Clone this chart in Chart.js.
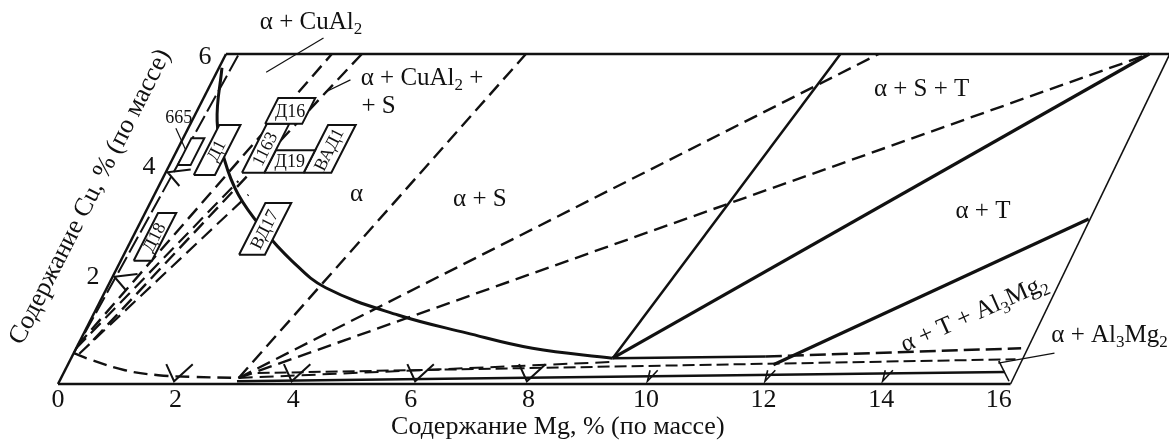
<!DOCTYPE html>
<html>
<head>
<meta charset="utf-8">
<script src="https://cdn.jsdelivr.net/npm/chart.js@4.4.0/dist/chart.umd.min.js"></script>
<style>
  html, body { margin: 0; padding: 0; background: #fff; }
</style>
</head>
<body>
<canvas id="diagram" width="1169" height="441"></canvas>
<script>
// ---- data: points are [Mg %, Cu %] ----
const mgTicks = [0, 2, 4, 6, 8, 10, 12, 14, 16];
const cuTicks = [2, 4, 6];

const frameBottom = [[0, 0], [16.2, 0]];
const frameTop = [[0, 6], [16.4, 6]];
const frameLeft = [[0, 0], [0, 6]];
const frameRight = [[16.2, 0], [16.05, 6]];
const innerLeft = [[0, 0.56], [0.22, 6]];

// solvus, high temperature (solid) and low temperature (dashed)
const solvusHot = [[0.05, 5.75], [0.43, 4.78], [0.91, 4.05], [1.43, 3.44], [2.11, 2.84], [2.91, 2.24],
                   [3.72, 1.75], [5.2, 1.25], [6.5, 0.93], [7.76, 0.65], [9.21, 0.47]];
const solvusHotTail = [[9.21, 0.47], [11.8, 0.5]];
const solvusHotEnd = [[11.8, 0.5], [16.07, 0.65]];
const solvusCold = [[0, 0.56], [0.35, 0.44], [1.02, 0.25], [1.63, 0.16], [2.21, 0.13], [3.02, 0.11]];

// tie lines, solid
const tieQTop = [[9.21, 0.47], [10.45, 6]];
const tieQP = [[9.21, 0.47], [15.7, 6]];
const tieTLow = [[12.0, 0.35], [16.1, 3.0]];

// tie lines, dashed
const dashS = [[3.02, 0.11], [5.1, 6]];
const dashA = [[3.02, 0.11], [11.1, 6]];
const dashB = [[3.02, 0.11], [15.7, 6]];
const dashFQ = [[3.02, 0.11], [9.21, 0.4]];
const dashCu1 = [[0, 0.7], [1.8, 6]];
const dashCu2 = [[0.22, 0.8], [2.31, 6]];
const dashCu3 = [[0, 0.65], [1.31, 3.69]];
const dashCu4 = [[0.1, 0.55], [1.6, 3.44]];

// lines near the Mg axis
const bandSolid = [[3.02, 0.05], [16.0, 0.22]];
const bandDash = [[3.3, 0.2], [16.07, 0.45]];
const cornerStroke = [[15.8, 0.42], [16.15, 0.05]];

// fork marks along the axes
const bottomMarks = [2, 4, 6.1, 8];
const bottomSmallMarks = [10, 12, 14];
const leftMarks = [1.95, 3.85];

// alloys: composition ranges
const alloyNames = ['Д1', 'Д16', '1163', 'Д19', 'ВАД1', 'Д18', 'ВД17', '665'];
const alloyMg = [[0.5, 0.86], [1.27, 1.9], [1.3, 1.68], [1.68, 2.35], [2.35, 2.82], [0.22, 0.53], [1.96, 2.4], [0.14, 0.36]];
const alloyCu = [[3.8, 4.71], [4.73, 5.2], [3.84, 4.73], [3.84, 4.25], [3.84, 4.71], [2.24, 3.11], [2.35, 3.29], [3.98, 4.47]];

// phase region names ('_' marks a subscript)
const regionNames = ['α + CuAl_2', 'α + CuAl_2 +', '+ S', 'α', 'α + S', 'α + S + T', 'α + T', 'α + T + Al_3Mg_2', 'α + Al_3Mg_2'];

const xTitle = 'Содержание Mg, % (по массе)';
const yTitle = 'Содержание Cu, % (по массе)';

// ---- layout ----
const FONT = '"Liberation Serif", "Times New Roman", serif';
const SKEW = 28 / 58.8;            // Cu axis leans right: Mg units per 1 % Cu
const XMIN = -58 / 58.8, XMAX = XMIN + 1169 / 58.8;
const YMAX = 384 / 55, YMIN = YMAX - 441 / 55;

const regionPlace = [
  { mg: 1.17, cu: 6.58 },
  { mg: 2.50, cu: 5.56, align: 'left' },
  { mg: 2.76, cu: 5.04, align: 'left' },
  { mg: 3.44, cu: 3.44 },
  { mg: 5.58, cu: 3.35 },
  { mg: 12.14, cu: 5.35 },
  { mg: 14.24, cu: 3.13 },
  { mg: 14.98, cu: 1.27, rot: -24 },
  { mg: 16.47, cu: 0.89, align: 'left' }
];
const leaders = [
  [[1.52, 6.29], [0.84, 5.67]],
  [[2.34, 5.53], [2.02, 5.31]],
  [[16.68, 0.56], [15.81, 0.38]],
  [[-0.21, 4.65], [0.24, 4.15]]
];
const uprightAlloys = ['Д16', 'Д19'];
const outsideAlloys = { '665': { mg: -0.25, cu: 4.84 } };

const toXY = pts => pts.map(([mg, cu]) => ({ x: mg + SKEW * cu, y: cu }));

function line(pts, width, dash, extra) {
  return Object.assign({
    data: toXY(pts),
    showLine: true,
    pointRadius: 0,
    borderColor: '#111',
    borderWidth: width,
    borderDash: dash || [],
    fill: false,
    tension: 0,
    order: 2
  }, extra || {});
}

const DASH = [14, 7];
const datasets = [
  line(frameBottom, 2.5), line(frameTop, 2.5), line(frameLeft, 2.5), line(frameRight, 1.6),
  line(innerLeft, 2, [18, 5]),
  line(solvusHot, 3, null, { tension: 0.4 }),
  line(solvusHotTail, 2.5),
  line(solvusHotEnd, 2.5, [16, 6]),
  line(solvusCold, 2.4, DASH, { tension: 0.4 }),
  line(tieQTop, 2.5), line(tieQP, 3.2), line(tieTLow, 3.2),
  line(dashS, 2.4, DASH), line(dashA, 2.4, DASH), line(dashB, 2.4, DASH), line(dashFQ, 2, DASH),
  line(dashCu1, 2.4, DASH), line(dashCu2, 2.4, DASH), line(dashCu3, 2.2, DASH), line(dashCu4, 2.2, DASH),
  line(bandSolid, 2.5), line(bandDash, 2, [12, 5]), line(cornerStroke, 1.6)
];
bottomMarks.forEach(m => datasets.push(line([[m - 0.33, 0.36], [m - 0.05, 0.05], [m + 0.12, 0.36]], 2)));
bottomSmallMarks.forEach(m => datasets.push(line([[m - 0.05, 0.25], [m, 0.05], [m + 0.08, 0.25]], 1.6)));
leftMarks.forEach(c => datasets.push(line([[0.4, c + 0.05], [0.03, c], [0.35, c - 0.25]], 2)));
leaders.forEach(l => datasets.push(line(l, 1.2)));

alloyNames.forEach((name, i) => {
  const [m0, m1] = alloyMg[i], [c0, c1] = alloyCu[i];
  datasets.push(line([[m0, c0], [m1, c0], [m1, c1], [m0, c1], [m0, c0]], 2, null,
    { fill: 'shape', backgroundColor: '#fff', order: 0 }));
});

function drawRich(ctx, s, x, y, size, align, rot) {
  const parts = [];
  for (let i = 0; i < s.length; i++) {
    if (s[i] === '_') { parts.push({ t: s[i + 1], sub: true }); i++; }
    else if (parts.length && !parts[parts.length - 1].sub) parts[parts.length - 1].t += s[i];
    else parts.push({ t: s[i], sub: false });
  }
  let total = 0;
  parts.forEach(p => {
    ctx.font = (p.sub ? Math.round(size * 0.68) : size) + 'px ' + FONT;
    p.w = ctx.measureText(p.t).width;
    total += p.w;
  });
  ctx.save();
  ctx.translate(x, y);
  ctx.rotate((rot || 0) * Math.PI / 180);
  ctx.textAlign = 'left';
  ctx.textBaseline = 'middle';
  ctx.fillStyle = '#111';
  let cx = align === 'left' ? 0 : align === 'right' ? -total : -total / 2;
  parts.forEach(p => {
    ctx.font = (p.sub ? Math.round(size * 0.68) : size) + 'px ' + FONT;
    ctx.fillText(p.t, cx, p.sub ? size * 0.3 : 0);
    cx += p.w;
  });
  ctx.restore();
}

const textPlugin = {
  id: 'diagramText',
  afterDatasetsDraw(chart) {
    const { ctx, scales: { x, y } } = chart;
    const at = (mg, cu) => [x.getPixelForValue(mg + SKEW * cu), y.getPixelForValue(cu)];
    const slant = -Math.atan2(y.getPixelForValue(0) - y.getPixelForValue(1),
                              x.getPixelForValue(SKEW) - x.getPixelForValue(0)) * 180 / Math.PI;

    regionNames.forEach((name, i) => {
      const p = regionPlace[i];
      const [px, py] = at(p.mg, p.cu);
      drawRich(ctx, name, px, py, 25, p.align || 'center', p.rot || 0);
    });

    alloyNames.forEach((name, i) => {
      if (outsideAlloys[name]) {
        const [px, py] = at(outsideAlloys[name].mg, outsideAlloys[name].cu);
        drawRich(ctx, name, px, py, 18, 'center', 0);
        return;
      }
      const mg = (alloyMg[i][0] + alloyMg[i][1]) / 2, cu = (alloyCu[i][0] + alloyCu[i][1]) / 2;
      const [px, py] = at(mg, cu);
      drawRich(ctx, name, px, py + 1, 18, 'center', uprightAlloys.includes(name) ? 0 : slant);
    });

    cuTicks.forEach(c => {
      const [px, py] = at(0, c);
      drawRich(ctx, String(c), px - 21, py + 3, 26, 'center', 0);
    });

    drawRich(ctx, xTitle, x.getPixelForValue(8.5), y.getPixelForValue(-0.78), 26, 'center', 0);
    const [tx, ty] = at(-1.07, 3.4);
    drawRich(ctx, yTitle, tx, ty, 26, 'center', slant);
  }
};

new Chart(document.getElementById('diagram'), {
  type: 'scatter',
  data: { datasets },
  options: {
    responsive: false,
    animation: false,
    devicePixelRatio: 1,
    layout: { padding: 0 },
    plugins: { legend: { display: false }, tooltip: { enabled: false } },
    scales: {
      x: {
        type: 'linear',
        min: XMIN,
        max: XMAX,
        position: { y: 0 },
        grid: { display: false, drawTicks: false },
        border: { display: false },
        afterBuildTicks: s => { s.ticks = mgTicks.map(v => ({ value: v })); },
        ticks: {
          autoSkip: false,
          maxRotation: 0,
          padding: 1,
          color: '#111',
          font: { family: FONT, size: 26 }
        }
      },
      y: { display: false, min: YMIN, max: YMAX }
    }
  },
  plugins: [textPlugin]
});
</script>
</body>
</html>
